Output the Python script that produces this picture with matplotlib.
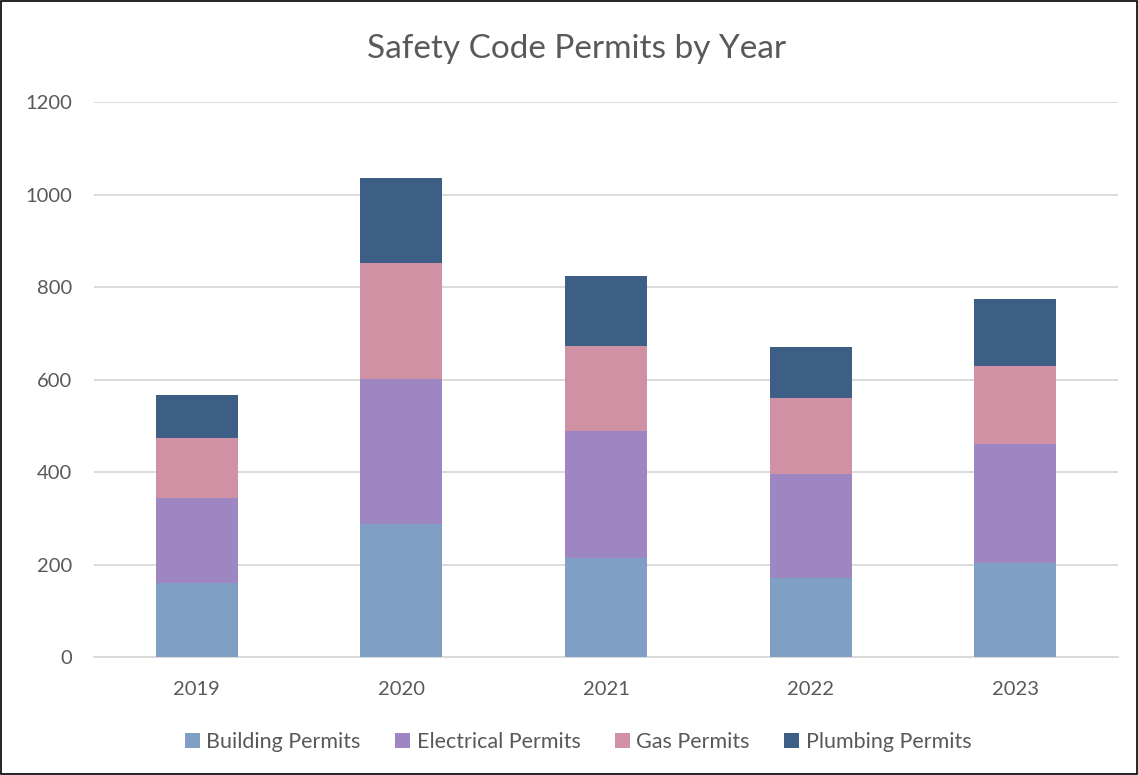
import numpy as np
import matplotlib.pyplot as plt
from matplotlib.patches import Rectangle

years = ['2019', '2020', '2021', '2022', '2023']
building = [160, 288, 214, 171, 203]
electrical = [184, 314, 275, 226, 257]
gas = [131, 251, 185, 163, 170]
plumbing = [92, 184, 150, 110, 144]

series = ['Building Permits', 'Electrical Permits', 'Gas Permits', 'Plumbing Permits']
colors = ['#7F9FC4', '#9E86C2', '#D091A4', '#3E5F85']

plt.rcParams['font.family'] = ['Lato', 'DejaVu Sans']

fig = plt.figure(figsize=(11.38, 7.75), dpi=100)
ax = fig.add_axes([0.083, 0.152, 0.899, 0.716])

x = np.arange(len(years))
bottom = np.zeros(len(years))
for name, vals, c in zip(series, [building, electrical, gas, plumbing], colors):
    ax.bar(x, vals, width=0.4, bottom=bottom, color=c, label=name, zorder=3)
    bottom += np.array(vals)

ax.set_xlim(-0.5, 4.5)
ax.set_ylim(0, 1200)
ax.set_yticks(range(0, 1201, 200))
ax.set_xticks(x)
ax.set_xticklabels(years)
ax.grid(axis='y', color='#D9D9D9', lw=1.3, zorder=0)
for s in ['top', 'right', 'left']:
    ax.spines[s].set_visible(False)
ax.spines['bottom'].set_color('#D9D9D9')
ax.spines['bottom'].set_linewidth(1.3)
ax.tick_params(length=0, labelsize=14.5, colors='#595959')
ax.tick_params(axis='x', pad=17)
ax.tick_params(axis='y', pad=16)

fig.text(0.507, 0.937, 'Safety Code Permits by Year', ha='center', va='center',
         fontsize=24, color='#595959')

fig.legend(loc='center', bbox_to_anchor=(0.508, 0.042), ncol=4, frameon=False,
           fontsize=15.5, labelcolor='#595959', handlelength=0.7, handleheight=0.7,
           handletextpad=0.3, columnspacing=1.6)

fig.patches.append(Rectangle((0.0005, 0.0008), 0.999, 0.998, transform=fig.transFigure,
                             fill=False, edgecolor='black', lw=1.2))

fig.savefig('out.png', dpi=100)
